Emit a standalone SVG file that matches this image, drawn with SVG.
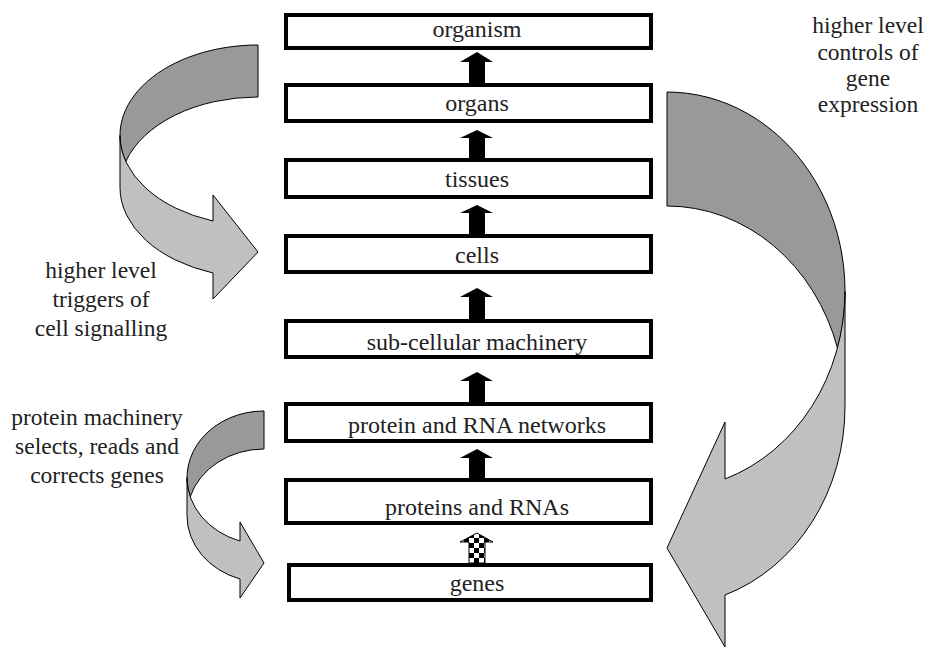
<svg xmlns="http://www.w3.org/2000/svg" width="928" height="648" viewBox="0 0 928 648">
<style>
.box{fill:#fff;stroke:#000;stroke-width:4}
.lbl{font-family:"Liberation Serif","Times New Roman",serif;font-size:24px;fill:#222;text-anchor:middle}
.side{font-family:"Liberation Serif","Times New Roman",serif;font-size:23.5px;fill:#222;text-anchor:middle}
.up{fill:#000}
.chk{fill:url(#chk);stroke:#000;stroke-width:1}
.back{fill:#999;stroke:#000;stroke-width:1}
.front{fill:#c0c0c0;stroke:#000;stroke-width:1}
</style>
<defs>
<pattern id="chk" width="10" height="10" patternUnits="userSpaceOnUse" x="469" y="533">
<rect width="10" height="10" fill="#fff"/>
<rect width="5" height="5" fill="#000"/>
<rect x="5" y="5" width="5" height="5" fill="#000"/>
</pattern>
</defs>
<rect width="928" height="648" fill="#fff"/>

<g id="organism"><rect class="box" x="286" y="15" width="365" height="33"/><text class="lbl" x="477" y="37">organism</text></g>
<g id="organs"><rect class="box" x="286" y="85" width="365" height="36"/><text class="lbl" x="477" y="111">organs</text></g>
<g id="tissues"><rect class="box" x="286" y="160" width="365" height="37"/><text class="lbl" x="477" y="187">tissues</text></g>
<g id="cells"><rect class="box" x="286" y="236" width="365" height="36"/><text class="lbl" x="477" y="263">cells</text></g>
<g id="subcellular"><rect class="box" x="286" y="321" width="365" height="36"/><text class="lbl" x="477" y="350">sub-cellular machinery</text></g>
<g id="networks"><rect class="box" x="286" y="404" width="365" height="37"/><text class="lbl" x="477" y="433">protein and RNA networks</text></g>
<g id="proteins"><rect class="box" x="286" y="480" width="365" height="43"/><text class="lbl" x="477" y="515">proteins and RNAs</text></g>
<g id="genes"><rect class="box" x="289" y="565" width="362" height="35"/><text class="lbl" x="477" y="591">genes</text></g>

<g id="label-signalling">
<text class="side" x="101" y="278">higher level</text>
<text class="side" x="101" y="307">triggers of</text>
<text class="side" x="101" y="336">cell signalling</text>
</g>
<g id="label-machinery">
<text class="side" x="97" y="425">protein machinery</text>
<text class="side" x="97" y="454">selects, reads and</text>
<text class="side" x="97" y="483">corrects genes</text>
</g>
<g id="label-controls">
<text class="side" x="868" y="33">higher level</text>
<text class="side" x="868" y="60">controls of</text>
<text class="side" x="868" y="86">gene</text>
<text class="side" x="868" y="112">expression</text>
</g>

<g id="connectors">
<polygon class="up" points="469,83 469,62 460,62 477,52 493,62 485,62 485,83"/>
<polygon class="up" points="469,158 469,138 460,138 477,130 493,138 485,138 485,158"/>
<polygon class="up" points="469,234 469,213 460,213 477,205 493,213 485,213 485,234"/>
<polygon class="up" points="469,319 469,297 460,297 477,288 493,297 485,297 485,319"/>
<polygon class="up" points="469,402 469,381 460,381 477,372 493,381 485,381 485,402"/>
<polygon class="up" points="469,478 469,458 460,458 477,449 493,458 485,458 485,478"/>
<polygon class="chk" points="469,563 469,542 460,542 477,533 493,542 485,542 485,563"/>

<g id="curve-signalling">
<path class="back" d="M258 45 A138 90.5 0 0 0 125.8 161.5 A138 90.5 0 0 1 258 97 Z"/>
<path class="front" d="M120 135.5 A138 90.5 0 0 0 213 221 L213 195 L258 252 L213 299 L213 273 A138 90.5 0 0 1 120 187.5 Z"/>
</g>
<g id="curve-machinery">
<path class="back" d="M264 411 A77 66.7 0 0 0 190.2 496.7 A77 66.7 0 0 1 264 449 Z"/>
<path class="front" d="M187 477.7 A77 66.7 0 0 0 240 541 L240 522 L264 563 L240 598 L240 579 A77 66.7 0 0 1 187 515.7 Z"/>
</g>
<g id="curve-controls">
<path class="back" d="M667 92 A178 199.5 0 0 1 837.6 348.5 A178 199.5 0 0 0 667 206 Z"/>
<path class="front" d="M845 291.5 A178 199.5 0 0 1 725 479 L725 422 L667 548 L725 647 L725 595 A178 199.5 0 0 0 845 405.5 Z"/>
</g>
</g>
</svg>
